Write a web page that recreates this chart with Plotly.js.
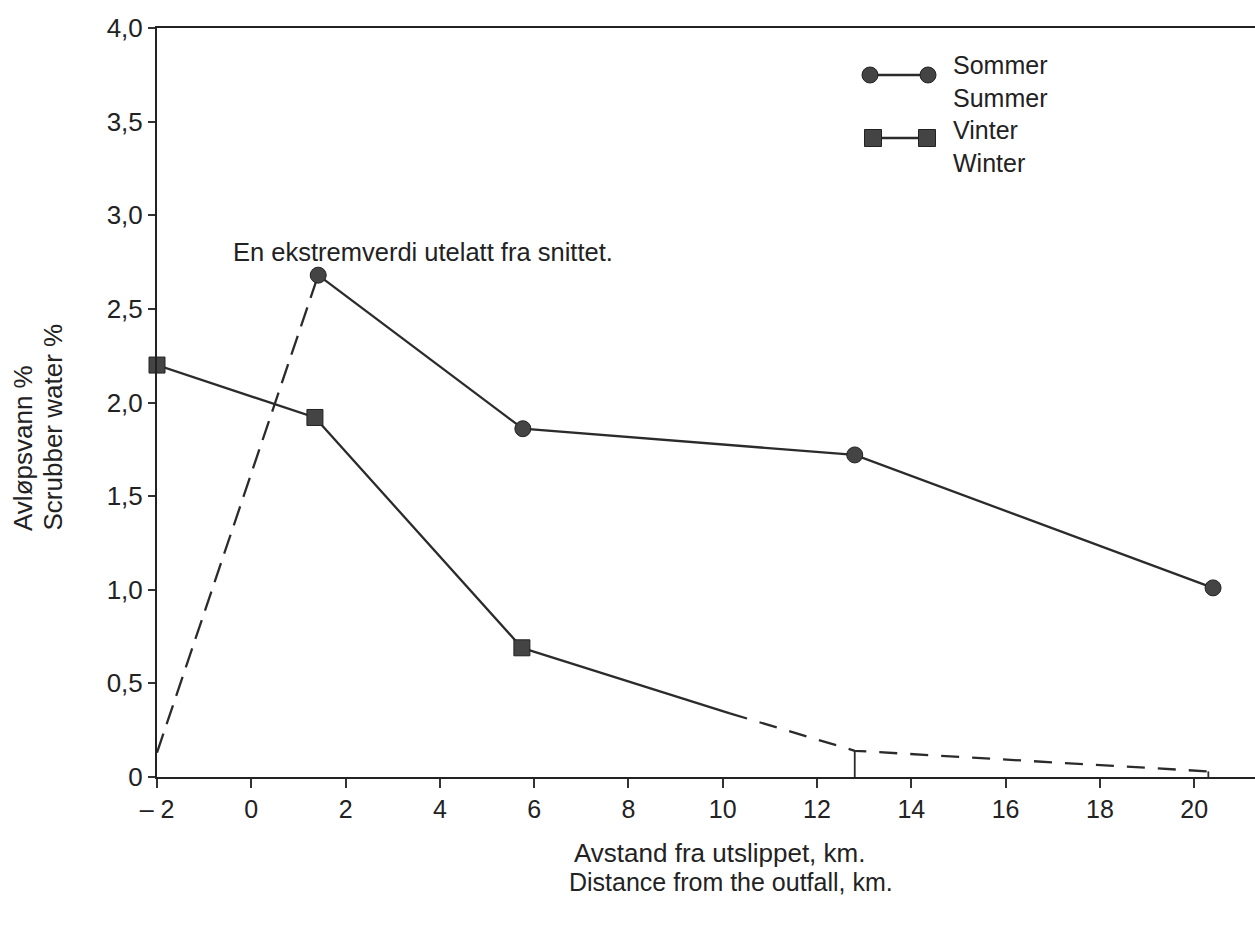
<!DOCTYPE html>
<html>
<head>
<meta charset="utf-8">
<script src="https://cdn.plot.ly/plotly-3.0.1.min.js"></script>
<style>html,body{margin:0;padding:0;background:#fff;}#chart{width:1255px;height:926px;}</style>
</head>
<body>
<div id="chart"></div>
<script>
// ---- data ----
const summerDashedX = [-2, 1.42];
const summerDashedY = [0.13, 2.68];
const summerX = [1.42, 5.76, 12.8, 20.4];
const summerY = [2.68, 1.86, 1.72, 1.01];

const winterX = [-2, 1.35, 5.74];
const winterY = [2.2, 1.92, 0.69];
const winterSolidTailX = [5.74, 10.15];
const winterSolidTailY = [0.69, 0.34];
const winterDashedX = [10.15, 12.8, 20.3];
const winterDashedY = [0.34, 0.14, 0.03];
const dropStations = [12.8, 20.3];
const dropValues = [0.14, 0.03];

const xTickVals = [-2, 0, 2, 4, 6, 8, 10, 12, 14, 16, 18, 20];
const xTickText = ["\u2013 2", "0", "2", "4", "6", "8", "10", "12", "14", "16", "18", "20"];
const yTickVals = [0, 0.5, 1, 1.5, 2, 2.5, 3, 3.5, 4];
const yTickText = ["0", "0,5", "1,0", "1,5", "2,0", "2,5", "3,0", "3,5", "4,0"];

const yTitleLines = ["Avløpsvann %", "Scrubber water %"];
const xTitleLines = ["Avstand fra utslippet, km.", "Distance from the outfall, km."];
const note = "En ekstremverdi utelatt fra snittet.";
const legendLines = ["Sommer", "Summer", "Vinter", "Winter"];

// ---- styling ----
const LINE = '#2b2b2b';
const MARK = '#444444';
const FONT = 'Liberation Sans, Arial, sans-serif';

const traces = [
  {x: summerDashedX, y: summerDashedY, mode: 'lines', line: {color: LINE, width: 2.3, dash: '20px,10px'}, cliponaxis: false},
  {x: summerX, y: summerY, mode: 'lines+markers', line: {color: LINE, width: 2.3},
   marker: {symbol: 'circle', size: 16, color: MARK, line: {color: '#222', width: 1}}, cliponaxis: false},
  {x: winterSolidTailX, y: winterSolidTailY, mode: 'lines', line: {color: LINE, width: 2.3}},
  {x: winterDashedX, y: winterDashedY, mode: 'lines', line: {color: LINE, width: 2.3, dash: '18px,13px'}},
  {x: winterX, y: winterY, mode: 'lines+markers', line: {color: LINE, width: 2.3},
   marker: {symbol: 'square', size: 16, color: MARK, line: {color: '#222', width: 1}}, cliponaxis: false}
];
dropStations.forEach((s, i) => {
  traces.push({x: [s, s], y: [0, dropValues[i]], mode: 'lines', line: {color: LINE, width: 1.8}});
});

// legend key drawn as shapes (pixel-sized) in paper coordinates
function px2x(px){ return (px - 157) / 1098; }
function px2y(py){ return (777 - py) / 749; }
const shapes = [];
shapes.push({type:'line', xref:'paper', yref:'paper', x0:px2x(870), x1:px2x(928), y0:px2y(75), y1:px2y(75), line:{color:LINE, width:2.3}});
[870, 928].forEach(cx => shapes.push({type:'circle', xref:'paper', yref:'paper', xsizemode:'pixel', ysizemode:'pixel',
  xanchor:px2x(cx), yanchor:px2y(75), x0:-8, x1:8, y0:-8, y1:8, fillcolor:MARK, line:{color:'#222', width:1}}));
shapes.push({type:'line', xref:'paper', yref:'paper', x0:px2x(873), x1:px2x(927), y0:px2y(138), y1:px2y(138), line:{color:LINE, width:2.3}});
[873, 927].forEach(cx => shapes.push({type:'rect', xref:'paper', yref:'paper', xsizemode:'pixel', ysizemode:'pixel',
  xanchor:px2x(cx), yanchor:px2y(138), x0:-8.5, x1:8.5, y0:-8.5, y1:8.5, fillcolor:MARK, line:{color:'#222', width:1}}));

const annotations = [
  {text: legendLines.join('<br>'), xref:'paper', yref:'paper', x:px2x(951), y:px2y(114), xanchor:'left', yanchor:'middle', align:'left', showarrow:false, font:{family:FONT, size:25, color:'#222'}},
  {text: note, xref:'paper', yref:'paper', x:px2x(231), y:px2y(252), xanchor:'left', yanchor:'middle', showarrow:false, font:{family:FONT, size:25.5, color:'#222'}},
  {text: yTitleLines[0], xref:'paper', yref:'paper', x:px2x(23), y:px2y(533), xanchor:'center', yanchor:'bottom', textangle:-90, showarrow:false, font:{family:FONT, size:26, color:'#222'}},
  {text: yTitleLines[1], xref:'paper', yref:'paper', x:px2x(52), y:px2y(533), xanchor:'center', yanchor:'bottom', textangle:-90, showarrow:false, font:{family:FONT, size:26, color:'#222'}},
  {text: xTitleLines[0], xref:'paper', yref:'paper', x:px2x(572), y:px2y(853), xanchor:'left', yanchor:'middle', showarrow:false, font:{family:FONT, size:26, color:'#222'}},
  {text: xTitleLines[1], xref:'paper', yref:'paper', x:px2x(567), y:px2y(882), xanchor:'left', yanchor:'middle', showarrow:false, font:{family:FONT, size:25, color:'#222'}}
];

const layout = {
  width: 1255, height: 926,
  margin: {l: 157, r: 0, t: 28, b: 149},
  paper_bgcolor: '#fff', plot_bgcolor: '#fff',
  showlegend: false,
  font: {family: FONT, color: '#222'},
  xaxis: {range: [-2, 21.29], tickvals: xTickVals, ticktext: xTickText, showgrid: false, zeroline: false,
          showline: true, linecolor: '#222', linewidth: 2, mirror: true, ticks: 'outside', ticklen: 9, tickwidth: 2, tickcolor: '#333',
          tickfont: {family: FONT, size: 25, color: '#222'}},
  yaxis: {range: [0, 4], tickvals: yTickVals, ticktext: yTickText, showgrid: false, zeroline: false,
          showline: true, linecolor: '#222', linewidth: 2, ticks: 'outside', ticklen: 7, tickwidth: 2, tickcolor: '#333',
          tickfont: {family: FONT, size: 26, color: '#222'}},
  shapes: shapes,
  annotations: annotations
};

Plotly.newPlot('chart', traces, layout, {displayModeBar: false, staticPlot: true});
</script>
</body>
</html>
